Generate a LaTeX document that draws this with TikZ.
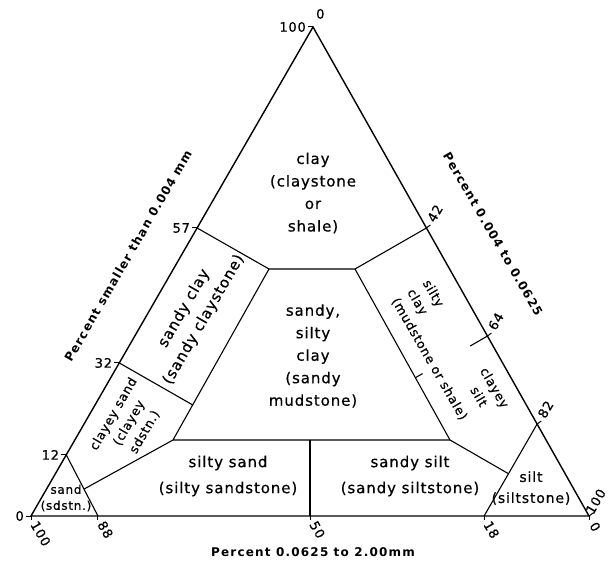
\documentclass[tikz,border=0pt]{standalone}
\usepackage{fontspec}
\setmainfont[LetterSpace=6,FakeBold=0.6]{DejaVu Sans}
\newfontfamily\titlefont[LetterSpace=10]{DejaVu Sans}
\usetikzlibrary{calc,positioning}

\begin{document}
\begin{tikzpicture}[
      x=1pt, y=-1pt,
      edge/.style={line width=1.4pt},
      border/.style={line width=1.1pt},
      tickmark/.style={line width=1pt},
      ticklabel/.style={inner sep=0pt, font=\fontsize{13}{13}\selectfont},
      region/.style={
         align=center,
         inner sep=0pt,
         font=\fontsize{15}{22.5}\selectfont},
      smallregion/.style={region, font=\fontsize{12.5}{18}\selectfont},
      axistitle/.style={inner sep=0pt, font=\titlefont\bfseries\fontsize{12}{12}\selectfont},
      node distance=7pt
      ]
      \useasboundingbox (0,0) rectangle (608,567);

      % corners of the triangle
      \coordinate (BL) at (31,516);
      \coordinate (BR) at (589,516);
      \coordinate (T) at (313,27);

      % ticks on the three sides
      \foreach \v/\f in {12/0.125,32/0.313,57/0.589}
         \coordinate (l\v) at ($(BL)!\f!(T)$);
      \foreach \v/\f in {42/0.411,64/0.632,82/0.812}
         \coordinate (r\v) at ($(T)!\f!(BR)$);
      \foreach \v/\f in {88/0.12,50/0.5,18/0.812}
         \coordinate (b\v) at ($(BL)!\f!(BR)$);

      % inner corners
      \coordinate (A) at (269,269);
      \coordinate (B) at (355,269);
      \coordinate (D) at (173,440);
      \coordinate (E) at (450,440);
      \coordinate (C) at ($(A)!0.795!(D)$);
      \coordinate (F) at ($(l12)!0.56!(b88)$);
      \coordinate (G) at ($(r82)!0.54!(b18)$);
      \coordinate (H) at (b50 |- D);
      \coordinate (r64in) at ($(r64)+(-86.6,50)$);
      \coordinate (M) at (intersection of r64--r64in and B--E);

      \draw[edge] (BL) -- (BR) -- (T) -- cycle;
      \draw[border] (l57) -- (A) -- (B) -- (r42);
      \draw[border] (A) -- (D) -- (E) -- (B);
      \draw[border] (l32) -- (C);
      \draw[border] (D) -- (F);
      \draw[border] (E) -- (G);
      \draw[border] (l12) -- (b88);
      \draw[border] (r82) -- (b18);
      \draw[border] (H) -- (b50);
      \draw[border] (r64) -- ($(r64)!0.24!(M)$);
      \draw[border] (M) -- ($(M)!0.1!(r64)$);

      \foreach \p in {BL,l12,l32,l57,T}
         \draw[tickmark] (\p) -- ++(-5,0);
      \foreach \p in {r42,r64,r82,BR}
         \draw[tickmark] (\p) -- ++(4,-3);
      \foreach \p in {BL,b88,b50,b18,BR}
         \draw[tickmark] (\p) -- ++(0,4);

      % tick labels
      \node[ticklabel,left=of BL] (ll0) {0};
      \foreach \v in {12,32,57}
         \node[ticklabel,left=of l\v] (ll\v) {\v};
      \node[ticklabel,left=of T] (ll100) {100};
      \node[ticklabel,above right=8pt and 3pt of T] (lr0) {0};
      \foreach \v in {42,64,82}
         \node[ticklabel,rotate=60,anchor=west] (lr\v) at ($(r\v)+(4,-7)$) {\v};
      \node[ticklabel,rotate=60,anchor=west] (lr100) at ($(BR)+(0,-3)$) {100};
      \node[ticklabel,rotate=-60,anchor=west] (lb100) at ($(BL)+(3,6)$) {100};
      \foreach \v in {88,50,18}
         \node[ticklabel,rotate=-60,anchor=west] (lb\v) at ($(b\v)+(3,6)$) {\v};
      \node[ticklabel,rotate=-60,anchor=west] (lb0) at ($(BR)+(4,7)$) {0};

      % axis titles
      \node[axistitle,rotate=60] (tleft) at (128,256) {Percent smaller than 0.004 mm};
      \node[axistitle,rotate=-60] (tright) at (493,234) {Percent 0.004 to 0.0625};
      \node[axistitle] (tbottom) at (313,552) {Percent 0.0625 to 2.00mm};

      % fields
      \node[region] (clay) at (313,193) {clay\\(claystone\\or\\shale)};
      \node[region] (sandysiltyclay) at (313,356) {sandy,\\silty\\clay\\(sandy\\mudstone)};
      \node[region,rotate=60] (sandyclay) at (194,314) {sandy clay\\(sandy claystone)};
      \node[smallregion,rotate=60] (clayeysand) at (129,423) {clayey sand\\(clayey\\sdstn.)};
      \node[region,font=\fontsize{12}{16}\selectfont] (sand) at (66,498) {sand\\(sdstn.)};
      \node[region,font=\fontsize{15}{26}\selectfont] (siltysand) at (228,476) {silty sand\\(silty sandstone)};
      \node[region,font=\fontsize{15}{26}\selectfont] (sandysilt) at (410,476) {sandy silt\\(sandy siltstone)};
      \node[region,font=\fontsize{14}{21}\selectfont] (silt) at (531,488) {silt\\(siltstone)};
      \node[smallregion,rotate=-60,align=left] (siltyclay) at (445,350) {silty\\clay\\(mudstone or shale)};
      \node[smallregion,rotate=-60] (clayeysilt) at (487,392) {clayey\\silt};
\end{tikzpicture}
\end{document}
